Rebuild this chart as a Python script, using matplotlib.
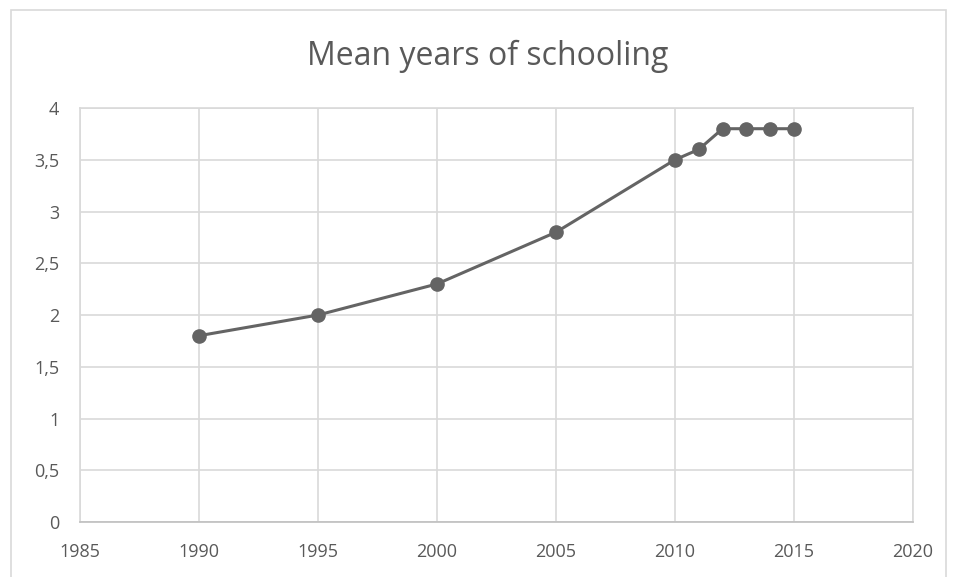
import matplotlib.pyplot as plt
from matplotlib.ticker import FuncFormatter, MultipleLocator
from matplotlib.patches import Rectangle

# ========= DATA =========
years = [1990, 1995, 2000, 2005, 2010, 2011, 2012, 2013, 2014, 2015]
schooling = [1.8, 2.0, 2.3, 2.8, 3.5, 3.6, 3.8, 3.8, 3.8, 3.8]

TEXT = "#595959"
GRID = "#d9d9d9"
LINE = "#646464"

plt.rcParams["font.family"] = ["Open Sans", "DejaVu Sans"]

fig = plt.figure(figsize=(9.55, 5.77), dpi=100)
ax = fig.add_axes([0.0838, 0.0953, 0.8722, 0.7175])

# outer chart border
fig.patches.append(Rectangle((0.011, -0.01), 0.98, 0.993, transform=fig.transFigure,
                             fill=False, edgecolor=GRID, linewidth=1.2))

ax.plot(years, schooling, color=LINE, linewidth=2.2, marker="o",
        markersize=9.5, markerfacecolor=LINE, markeredgecolor=LINE, zorder=3)

ax.set_xlim(1985, 2020)
ax.set_ylim(0, 4)
ax.xaxis.set_major_locator(MultipleLocator(5))
ax.yaxis.set_major_locator(MultipleLocator(0.5))
ax.yaxis.set_major_formatter(FuncFormatter(lambda v, p: f"{v:g}".replace(".", ",")))

ax.grid(True, color=GRID, linewidth=1.2)
ax.set_axisbelow(True)
for s in ax.spines.values():
    s.set_color(GRID)
    s.set_linewidth(1.2)
ax.spines["bottom"].set_color("#bfbfbf")

ax.tick_params(length=0, colors=TEXT, labelsize=13)
ax.tick_params(axis="y", pad=15)
ax.tick_params(axis="x", pad=15)

fig.text(0.511, 0.903, "Mean years of schooling", ha="center", va="center",
         fontsize=23, color=TEXT)

fig.savefig("out.png", dpi=100)
